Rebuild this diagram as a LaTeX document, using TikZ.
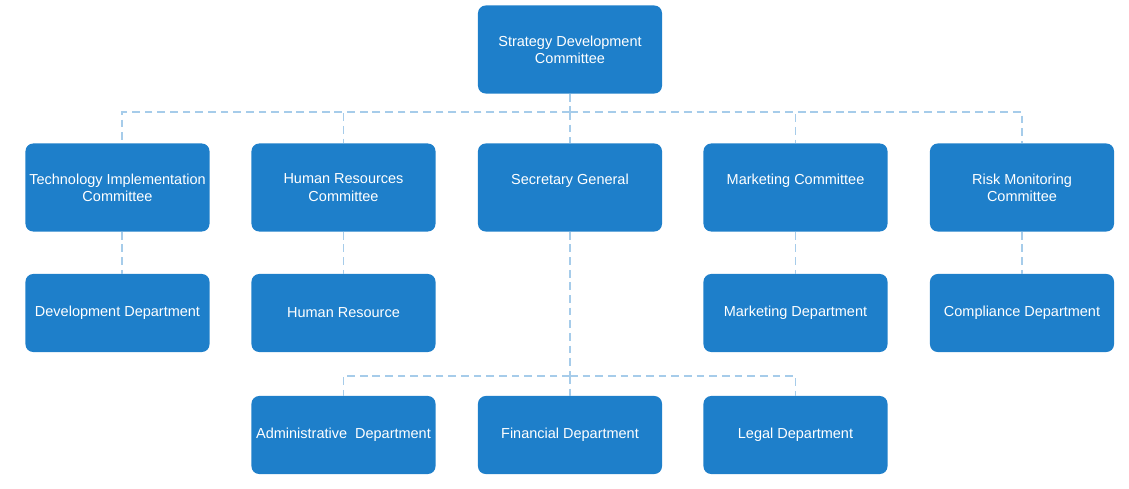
\documentclass[tikz,border=0pt]{standalone}
\usepackage{fontspec}
\setmainfont{Liberation Sans}
\usetikzlibrary{positioning}
\definecolor{boxblue}{RGB}{30,127,202}
\definecolor{linkblue}{RGB}{166,204,234}
\begin{document}
\begin{tikzpicture}[x=0.025cm, y=-0.025cm, font=\fontsize{10.3}{12.3}\selectfont,
          unit/.style={fill=boxblue, text=white, rounded corners=5.5pt, align=center,
                       minimum width=4.6cm, minimum height=2.2cm, inner sep=2pt},
          dept/.style={unit, minimum height=1.95cm},
          link/.style={draw=linkblue, line width=1.3pt, dash pattern=on 5.5pt off 3.5pt}]
        \useasboundingbox (0,0) rectangle (1129,488);
        % top
        \node[unit] (sdc) at (570,49.5) {Strategy Development\\Committee};
        % committees
        \node[unit] (tic) at (117.5,187.5) {Technology Implementation\\Committee};
        \node[unit] (hrc) at (343.5,187.5) {Human Resources\\Committee};
        \node[unit] (sg)  at (570,187.5) {Secretary General\\\mbox{}};
        \node[unit] (mc)  at (795.5,187.5) {Marketing Committee\\\mbox{}};
        \node[unit] (rmc) at (1022,187.5) {Risk Monitoring\\Committee};
        % departments
        \node[dept] (dev)  at (117.5,313) {Development Department};
        \node[dept] (hr)   at (343.5,313) {Human Resource};
        \node[dept] (mkt)  at (795.5,313) {Marketing Department};
        \node[dept] (comp) at (1022,313) {Compliance Department};
        \node[dept] (adm)  at (343.5,435) {Administrative~~Department};
        \node[dept] (fin)  at (570,435) {Financial Department};
        \node[dept] (leg)  at (795.5,435) {Legal Department};
        % bus lines
        \coordinate (topbus) at (570,112);
        \coordinate (sgbus) at (570,376);
        \draw[link] (sdc.south) -- (topbus);
        \draw[link] (topbus) -| ([xshift=0.11cm]tic.north);
        \foreach \nn in {hrc,sg,mc,rmc}
          \draw[link] (topbus) -| (\nn.north);
        \draw[link] ([xshift=0.11cm]tic.south) -- ([xshift=0.11cm]dev.north);
        \draw[link] (hrc.south) -- (hr.north);
        \draw[link] (mc.south) -- (mkt.north);
        \draw[link] (rmc.south) -- (comp.north);
        \draw[link] (sg.south) -- (sgbus);
        \foreach \nn in {adm,fin,leg}
          \draw[link] (sgbus) -| (\nn.north);
      \end{tikzpicture}
\end{document}
